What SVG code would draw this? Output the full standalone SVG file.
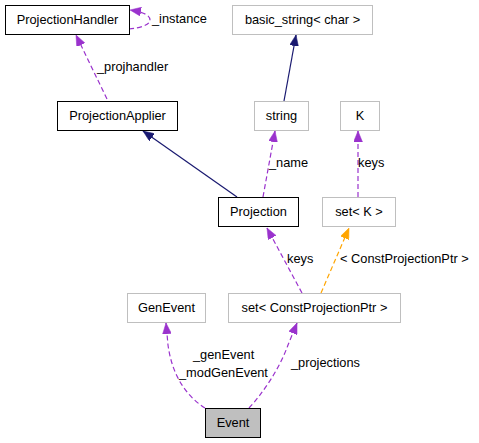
<svg xmlns="http://www.w3.org/2000/svg" width="479" height="443" viewBox="0 0 479 443">
<style>
text{font-family:"Liberation Sans",Arial,sans-serif;font-size:12.8px;fill:#000}
.n text{text-anchor:middle}
.b{fill:#fff;stroke:#000;stroke-width:1}
.g{fill:#fff;stroke:#bfbfbf;stroke-width:1}
.cur{fill:#bfbfbf;stroke:#000;stroke-width:1}
.e{fill:none;stroke-width:1.2}
.p{stroke:#9a32cd;stroke-dasharray:5,3;marker-end:url(#mp)}
.v{stroke:#191970;marker-end:url(#mv)}
.o{stroke:#ffa500;stroke-dasharray:5,3;marker-end:url(#mo)}
</style>
<defs>
<marker id="mp" markerUnits="userSpaceOnUse" markerWidth="12" markerHeight="9" refX="11" refY="4.5" orient="auto"><path d="M0,0 L11,4.5 L0,9 z" fill="#9a32cd" stroke="#9a32cd" stroke-width="0.5"/></marker>
<marker id="mv" markerUnits="userSpaceOnUse" markerWidth="12" markerHeight="9" refX="11" refY="4.5" orient="auto"><path d="M0,0 L11,4.5 L0,9 z" fill="#191970" stroke="#191970" stroke-width="0.5"/></marker>
<marker id="mo" markerUnits="userSpaceOnUse" markerWidth="12" markerHeight="9" refX="11" refY="4.5" orient="auto"><path d="M0,0 L11,4.5 L0,9 z" fill="#ffa500" stroke="#ffa500" stroke-width="0.5"/></marker>
</defs>
<g id="connectors">
<path class="e p" d="M129,29 C140,28 150,25 150,20 C150,15 143,12 130,10"/>
<path class="e p" d="M107,99 L76,35"/>
<path class="e v" d="M284,101 L296,35"/>
<path class="e v" d="M237,197 L143,131"/>
<path class="e p" d="M263,197 L275,131"/>
<path class="e p" d="M358,197 L358,131"/>
<path class="e p" d="M302,293 L267,228"/>
<path class="e o" d="M321,293 L349,228"/>
<path class="e p" d="M205,408 C186,396 172,375 168,345 L166,323"/>
<path class="e p" d="M249,408 C262,394 279,370 288,345 L297,323"/>
</g>
<g id="labels">
<text x="152" y="23">_instance</text>
<text x="97" y="71">_projhandler</text>
<text x="269" y="167">_name</text>
<text x="358" y="167">keys</text>
<text x="287" y="263">keys</text>
<text x="340" y="263">&lt; ConstProjectionPtr &gt;</text>
<text x="193" y="359">_genEvent</text>
<text x="179" y="377">_modGenEvent</text>
<text x="291" y="367">_projections</text>
</g>
<g id="ProjectionHandler" class="n"><rect class="b" x="5.5" y="5.5" width="124" height="29"/><text x="67.5" y="24">ProjectionHandler</text></g>
<g id="ProjectionApplier" class="n"><rect class="b" x="57.5" y="101.5" width="120" height="29"/><text x="117.5" y="120">ProjectionApplier</text></g>
<g id="basic_string" class="n"><rect class="g" x="232.5" y="5.5" width="140" height="29"/><text x="302.5" y="24">basic_string&lt; char &gt;</text></g>
<g id="string" class="n"><rect class="g" x="254.5" y="101.5" width="54" height="29"/><text x="281.5" y="120">string</text></g>
<g id="K" class="n"><rect class="g" x="340.5" y="101.5" width="39" height="29"/><text x="360" y="120">K</text></g>
<g id="Projection" class="n"><rect class="b" x="218.5" y="197.5" width="80" height="29"/><text x="258.5" y="216">Projection</text></g>
<g id="setK" class="n"><rect class="g" x="322.5" y="197.5" width="73" height="29"/><text x="359" y="216">set&lt; K &gt;</text></g>
<g id="GenEvent" class="n"><rect class="g" x="127.5" y="293.5" width="78" height="29"/><text x="166.5" y="312">GenEvent</text></g>
<g id="setCPP" class="n"><rect class="g" x="228.5" y="293.5" width="172" height="29"/><text x="314.5" y="312">set&lt; ConstProjectionPtr &gt;</text></g>
<g id="Event" class="n"><rect class="cur" x="205.5" y="408.5" width="55" height="29"/><text x="233" y="427">Event</text></g>
</svg>
